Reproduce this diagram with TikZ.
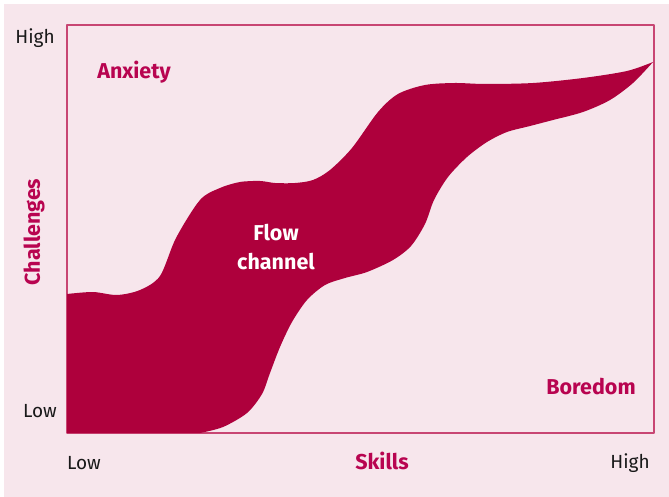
\documentclass[tikz,border=0pt]{standalone}
\usepackage{fontspec}
\setmainfont{Fira Sans}
\usetikzlibrary{positioning}

\definecolor{paper}{RGB}{247,230,236}
\definecolor{flowred}{RGB}{174,0,60}
\definecolor{labelred}{RGB}{184,4,80}
\definecolor{framered}{RGB}{200,70,115}

\tikzset{
  axislabel/.style={font=\fontsize{19}{22}\selectfont,text=black!90,inner sep=0pt},
  zonelabel/.style={font=\fontsize{21.5}{24}\selectfont\bfseries,text=labelred,inner sep=0pt},
}

\begin{document}
\begin{tikzpicture}[line cap=round,line join=round,x=1pt,y=-1pt]
\useasboundingbox (0,0) rectangle (669,497);
\fill [paper] (4,4) rectangle (669,497);
\draw [framered,line width=1.4pt] (67,25) rectangle (654,433);
% the channel between anxiety and boredom
\fill [flowred] (67,433) -- (67,294)
  -- plot[smooth,tension=0.5] coordinates {(67,294) (93,292) (117,295) (140,290) (160,276) (176,238) (200,200) (220,188) (240,182) (260,181) (275,183) (295,183) (313,180) (330,170) (352,148) (378,112) (398,94) (425,85) (455,83) (485,84) (533,83) (583,78) (627,71) (653,62)}
  -- plot[smooth,tension=0.5] coordinates {(653,62) (633,83) (610,100) (583,112) (553,120) (530,126) (507,132) (487,142) (467,157) (448,177) (434,200) (425,224) (411,246) (393,260) (367,272) (345,278) (325,285) (307,300) (292,322) (280,347) (270,373) (262,394) (247,413) (223,427) (200,433)}
  -- cycle;
\node [zonelabel] (anxiety) at (134,72) {Anxiety};
\node [zonelabel] (boredom) at (591,387) {Boredom};
\node [zonelabel,text=white,align=center,font=\fontsize{21.5}{29}\selectfont\bfseries] (flow) at (276,247) {Flow\\channel};
\node [zonelabel,rotate=90] (challenges) at (34,232) {Challenges};
\node [zonelabel] (skills) at (382,461) {Skills};
\node [axislabel] (yhigh) at (35,38) {High};
\node [axislabel] (ylow) at (40,411) {Low};
\node [axislabel] (xlow) at (84,463) {Low};
\node [axislabel] (xhigh) at (630,463) {High};
\end{tikzpicture}
\end{document}
